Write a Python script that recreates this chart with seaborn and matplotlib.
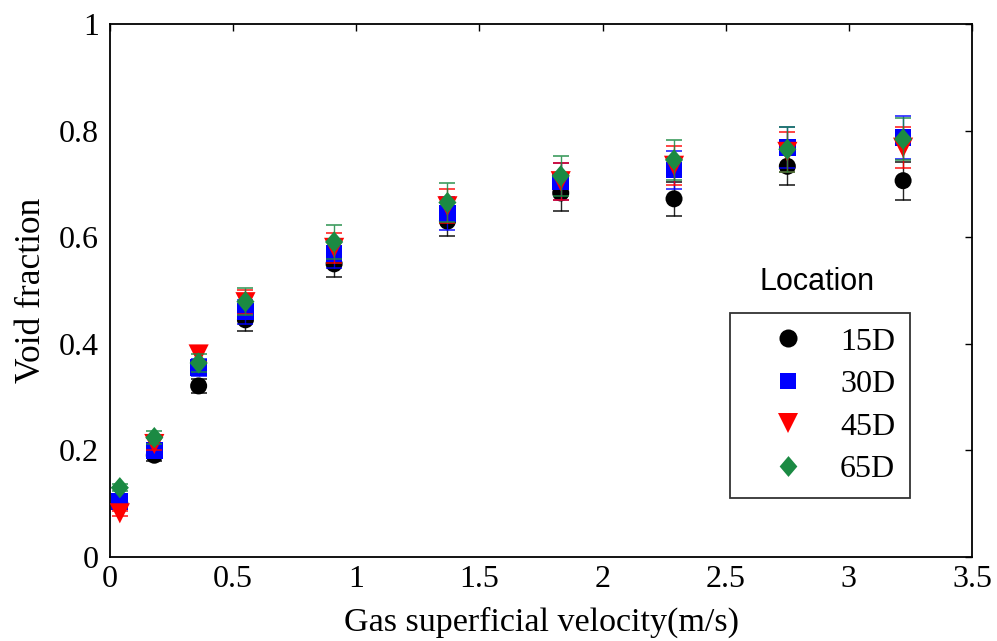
import numpy as np
import pandas as pd
import matplotlib
matplotlib.use("Agg")
import matplotlib.pyplot as plt
from matplotlib.lines import Line2D
from matplotlib.path import Path
import seaborn as sns

# Gas superficial velocity (m/s)
velocity = [0.04, 0.18, 0.36, 0.55, 0.91, 1.37, 1.83, 2.29, 2.75, 3.22]

# Void fraction measured at each location
void_15d = [0.100, 0.191, 0.321, 0.445, 0.550, 0.630, 0.683, 0.672, 0.733, 0.706]
void_30d = [0.104, 0.200, 0.356, 0.460, 0.570, 0.645, 0.704, 0.726, 0.768, 0.787]
void_45d = [0.082, 0.212, 0.380, 0.478, 0.580, 0.658, 0.705, 0.734, 0.760, 0.768]
void_65d = [0.130, 0.224, 0.364, 0.479, 0.591, 0.665, 0.715, 0.745, 0.765, 0.784]

# Measurement uncertainty (half-width of the error bars)
err_15d = [0.006, 0.010, 0.013, 0.021, 0.025, 0.027, 0.034, 0.032, 0.036, 0.036]
err_30d = [0.006, 0.011, 0.016, 0.022, 0.027, 0.031, 0.035, 0.036, 0.038, 0.040]
err_45d = [0.005, 0.011, 0.015, 0.023, 0.028, 0.032, 0.035, 0.037, 0.037, 0.038]
err_65d = [0.007, 0.012, 0.016, 0.025, 0.032, 0.036, 0.038, 0.038, 0.042, 0.040]

locations = ["15D", "30D", "45D", "65D"]
colors = ["#000000", "#0000ff", "#ff0000", "#1b8a43"]

# slightly tall diamond marker
tall_diamond = Path([(0, 1), (0.85, 0), (0, -1), (-0.85, 0), (0, 1)],
                    [Path.MOVETO, Path.LINETO, Path.LINETO, Path.LINETO,
                     Path.CLOSEPOLY])
markers = ["o", "s", "v", tall_diamond]
marker_sizes = [150, 145, 210, 235]
legend_marker_sizes = [13, 12, 14, 15]

x_ticks = [0, 0.5, 1, 1.5, 2, 2.5, 3, 3.5]
x_tick_labels = ["0", "0.5", "1", "1.5", "2", "2.5", "3", "3.5"]
y_ticks = [0, 0.2, 0.4, 0.6, 0.8, 1.0]
y_tick_labels = ["0", "0.2", "0.4", "0.6", "0.8", "1"]

values = [void_15d, void_30d, void_45d, void_65d]
errors = [err_15d, err_30d, err_45d, err_65d]

df = pd.DataFrame({
    "velocity": np.tile(velocity, len(locations)),
    "void": np.concatenate(values),
    "err": np.concatenate(errors),
    "location": np.repeat(locations, len(velocity)),
})

sns.set_theme(style="white")
plt.rcParams["font.family"] = ["Liberation Serif", "DejaVu Serif"]
plt.rcParams["text.color"] = "black"
plt.rcParams["axes.labelcolor"] = "black"
plt.rcParams["xtick.color"] = "black"
plt.rcParams["ytick.color"] = "black"

fig = plt.figure(figsize=(9.97, 6.41), dpi=100)
ax = fig.add_axes([0.1103, 0.131, 0.8647, 0.8316])

for i, loc in enumerate(locations):
    sub = df[df["location"] == loc]
    ax.errorbar(sub["velocity"], sub["void"], yerr=sub["err"], fmt="none",
                ecolor=colors[i], elinewidth=1.0, capsize=6, capthick=1.2,
                alpha=0.85, zorder=2 + 2 * i)
    sns.scatterplot(data=sub, x="velocity", y="void", ax=ax,
                    color=colors[i], marker=markers[i], s=marker_sizes[i],
                    edgecolor="none", linewidth=0, legend=False,
                    zorder=3 + 2 * i)

ax.set_xlim(0, 3.5)
ax.set_ylim(0, 1)
ax.set_xticks(x_ticks)
ax.set_xticklabels(x_tick_labels)
ax.set_yticks(y_ticks)
ax.set_yticklabels(y_tick_labels)
ax.tick_params(axis="both", which="major", direction="in", length=5, width=1,
               colors="black", labelcolor="black", labelsize=23,
               top=True, right=True, pad=6)
ax.tick_params(axis="y", pad=8)

for side in ["left", "bottom", "top", "right"]:
    ax.spines[side].set_visible(True)
    ax.spines[side].set_color("black")
    ax.spines[side].set_linewidth(1.3)

ax.set_xlabel("Gas superficial velocity(m/s)", fontsize=24.5, labelpad=9,
              color="black")
ax.set_ylabel("Void fraction", fontsize=25.5, labelpad=8, color="black")

handles = [Line2D([], [], linestyle="none", marker=markers[i], color=colors[i],
                  markersize=legend_marker_sizes[i], markeredgewidth=0)
           for i in range(len(locations))]
leg = ax.legend(handles, locations, loc="upper left",
                bbox_to_anchor=(0.719, 0.458), frameon=True, fancybox=False,
                prop={"family": "Liberation Serif", "size": 23},
                handlelength=2.75, handletextpad=0.25, labelspacing=0.41,
                borderpad=0.45, borderaxespad=0, markerfirst=True)
leg.get_frame().set_edgecolor("black")
leg.get_frame().set_linewidth(1.3)
leg.get_frame().set_facecolor("white")
for t in leg.get_texts():
    t.set_color("black")

ax.text(2.87, 0.516, "Location", ha="center", va="center",
        fontsize=22, family="Liberation Sans", color="black")

fig.savefig("out.png", dpi=100, facecolor="white")
